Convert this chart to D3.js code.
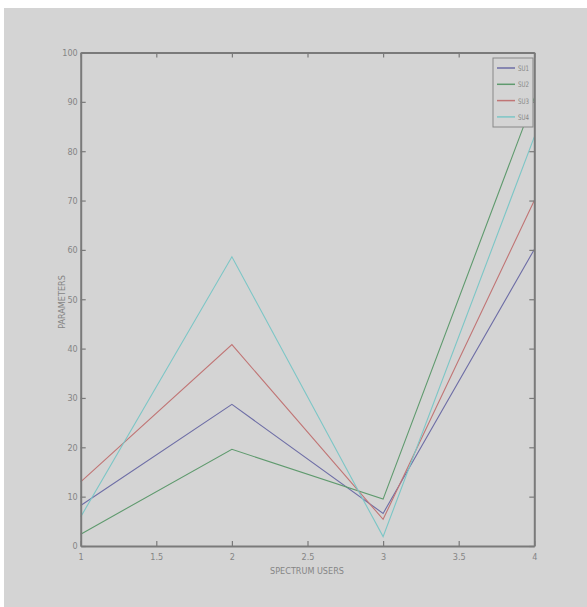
<!DOCTYPE html>
<html><head><meta charset="utf-8">
<script src="https://cdn.jsdelivr.net/npm/d3@7"></script>
<style>body{margin:0;background:#fff;}svg{display:block;}</style>
</head><body>
<script>
const xValues = [1, 2, 3, 4];
const seriesNames = ["SU1", "SU2", "SU3", "SU4"];
const su1 = [8.2, 28.7, 6.6, 60.1];
const su2 = [2.4, 19.6, 9.5, 90.8];
const su3 = [13.0, 40.8, 5.4, 70.0];
const su4 = [5.9, 58.6, 1.9, 82.9];
const seriesColors = ["#6e6ea6", "#5f9a6e", "#c07575", "#7cc6c6"];
const xTicks = [1, 1.5, 2, 2.5, 3, 3.5, 4];
const yTicks = [0, 10, 20, 30, 40, 50, 60, 70, 80, 90, 100];
const xTitle = "SPECTRUM USERS";
const yTitle = "PARAMETERS";

const W = 587, H = 607;
const svg = d3.select("body").append("svg").attr("width", W).attr("height", H);
svg.append("rect").attr("x", 4).attr("y", 8).attr("width", W - 4).attr("height", H - 8).attr("fill", "#d4d4d4");

const L = 80.7, R = 534.3, T = 52.5, B = 546;
const x = d3.scaleLinear().domain([1, 4]).range([L, R]);
const y = d3.scaleLinear().domain([0, 100]).range([B, T]);
const axisColor = "#7a7a7a", textColor = "#858585";
const fontFam = "'Liberation Sans Narrow', 'DejaVu Sans Condensed', Arial, sans-serif";

const data = [su1, su2, su3, su4];
const line = d3.line().x((d, i) => x(xValues[i])).y(d => y(d));
data.forEach((s, k) => {
  svg.append("path").datum(s).attr("d", line).attr("fill", "none")
    .attr("stroke", seriesColors[k]).attr("stroke-width", 1.1);
});

const ax = svg.append("g");
function styleAxis(g) {
  g.select(".domain").attr("stroke", axisColor).attr("stroke-width", 2);
  g.selectAll(".tick line").attr("stroke", axisColor).attr("stroke-width", 1.2);
  g.selectAll(".tick text").attr("fill", textColor).attr("font-family", fontFam).attr("font-size", 9);
}
const gB = ax.append("g").attr("transform", `translate(0,${B})`)
  .call(d3.axisBottom(x).tickValues(xTicks).tickSize(-5).tickPadding(8).tickSizeOuter(0).tickFormat(d3.format("")));
styleAxis(gB);
const gT = ax.append("g").attr("transform", `translate(0,${T})`)
  .call(d3.axisTop(x).tickValues(xTicks).tickSize(-5).tickSizeOuter(0).tickFormat(""));
styleAxis(gT);
const gL = ax.append("g").attr("transform", `translate(${L},0)`)
  .call(d3.axisLeft(y).tickValues(yTicks).tickSize(-5).tickPadding(3).tickSizeOuter(0));
styleAxis(gL);
const gR = ax.append("g").attr("transform", `translate(${R},0)`)
  .call(d3.axisRight(y).tickValues(yTicks).tickSize(-5).tickSizeOuter(0).tickFormat(""));
styleAxis(gR);

svg.append("text").attr("x", 307).attr("y", 574).attr("text-anchor", "middle")
  .attr("fill", textColor).attr("font-family", fontFam).attr("font-size", 9).text(xTitle);
svg.append("text").attr("transform", "translate(65,302) rotate(-90)").attr("text-anchor", "middle")
  .attr("fill", textColor).attr("font-family", fontFam).attr("font-size", 9).text(yTitle);

const lg = svg.append("g");
lg.append("rect").attr("x", 493).attr("y", 58).attr("width", 40).attr("height", 69)
  .attr("fill", "#d4d4d4").attr("stroke", "#888").attr("stroke-width", 1);
seriesNames.forEach((n, k) => {
  const yy = 68 + k * 16.3;
  lg.append("line").attr("x1", 497).attr("x2", 515).attr("y1", yy).attr("y2", yy)
    .attr("stroke", seriesColors[k]).attr("stroke-width", 1.5);
  lg.append("text").attr("x", 518).attr("y", yy + 3).attr("fill", textColor)
    .attr("font-family", fontFam).attr("font-size", 7.5).attr("textLength", 11)
    .attr("lengthAdjust", "spacingAndGlyphs").text(n);
});
</script>
</body></html>
